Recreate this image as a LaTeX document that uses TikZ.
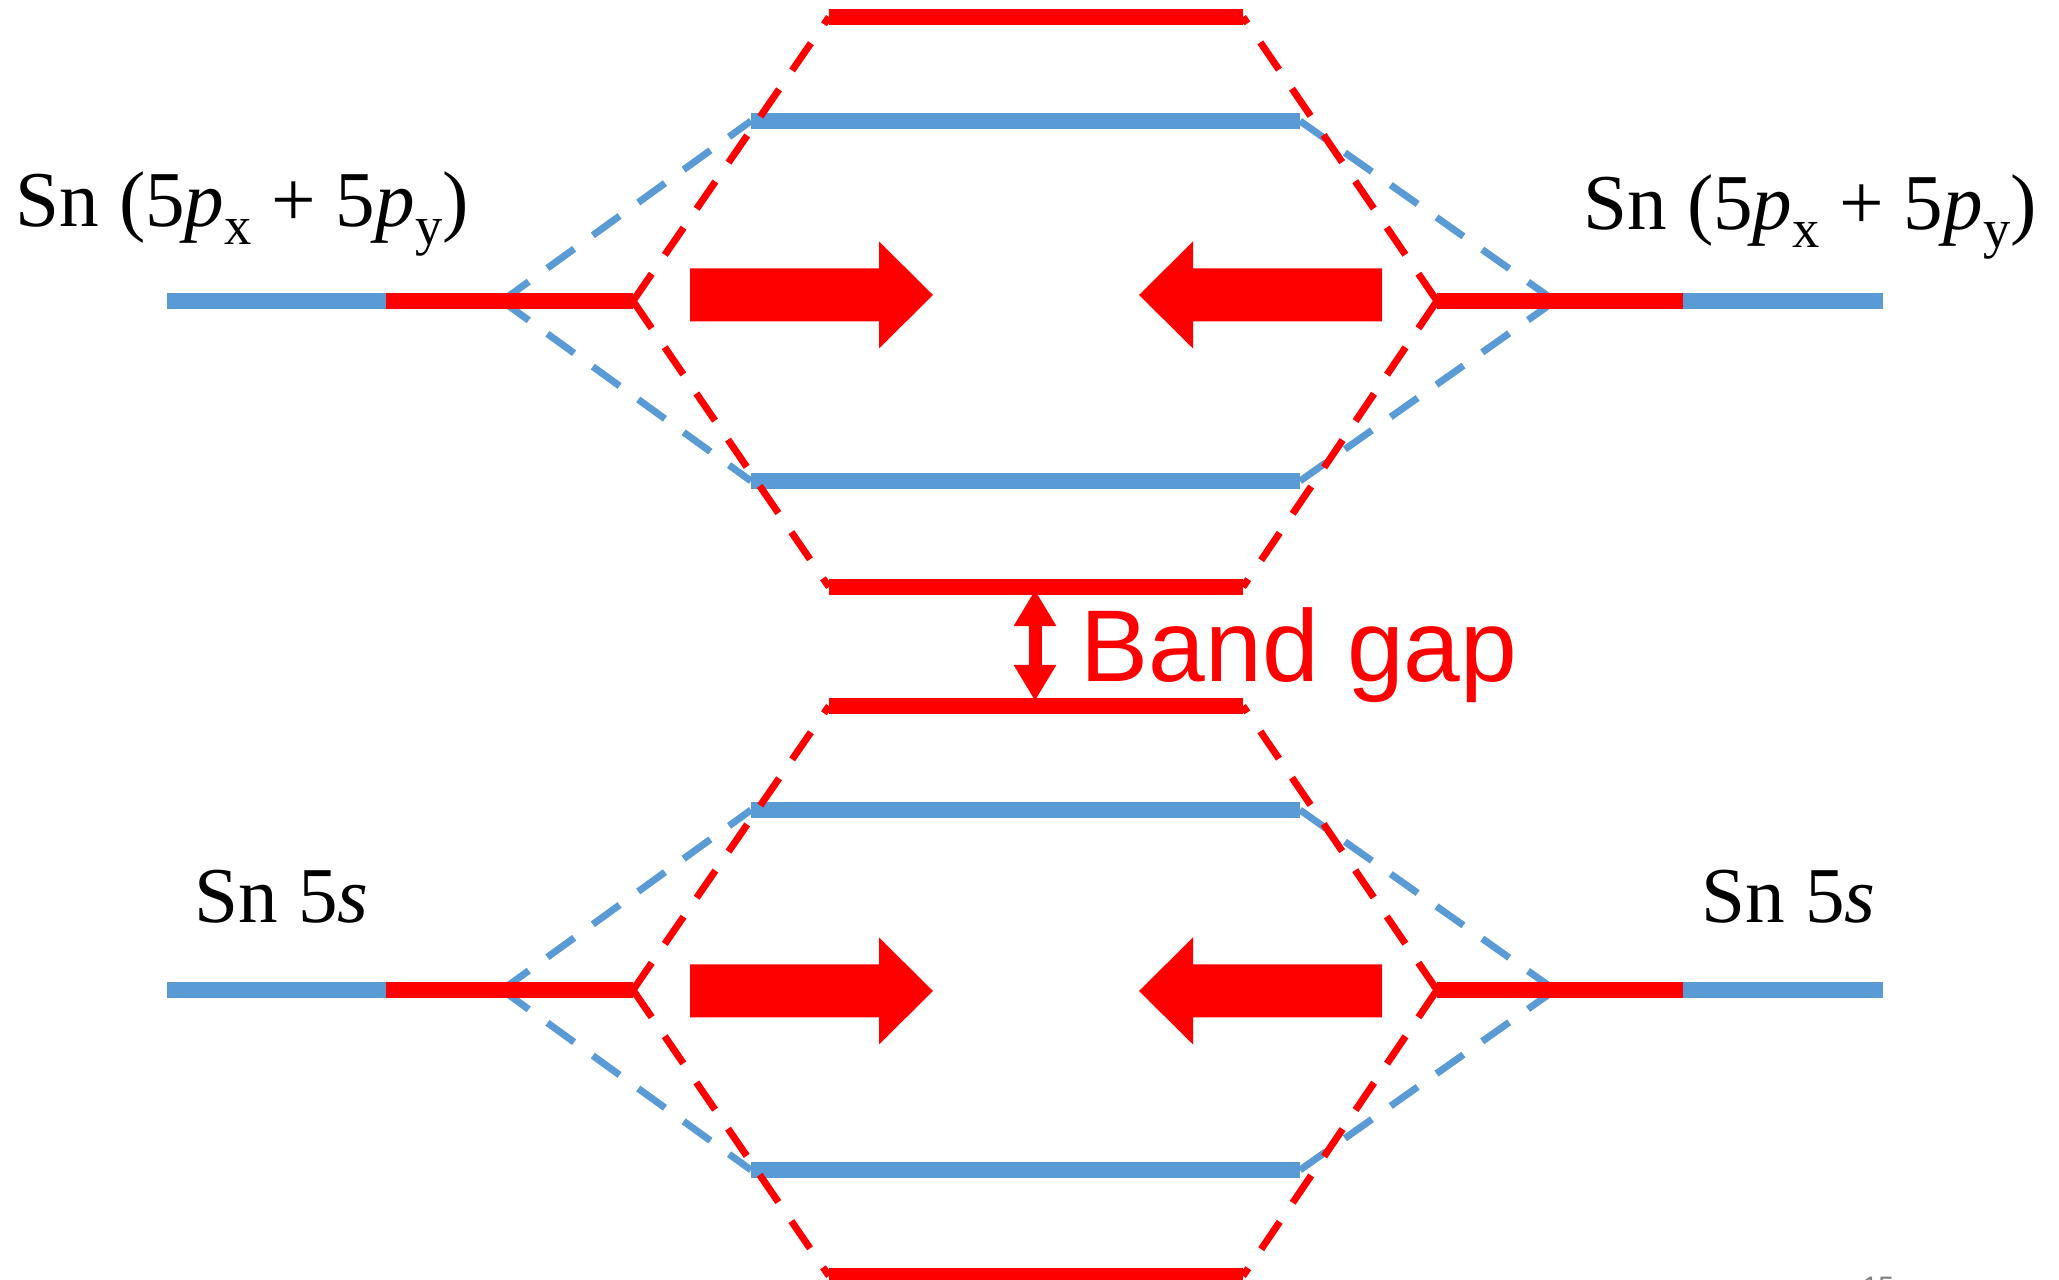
\documentclass[tikz,border=0pt]{standalone}
\usepackage{fontspec}
\setmainfont{Liberation Serif}
\newfontfamily\arialbetu{Liberation Sans}
\usetikzlibrary{arrows.meta}
\definecolor{kek}{HTML}{5B9BD5}
\definecolor{piros}{HTML}{FF0000}
\newcommand\alind[1]{\raisebox{-0.22em}{\fontsize{15.5}{15.5}\selectfont #1}}
\tikzset{
  szint/.style={line width=0.16cm},
  szagg/.style={line width=0.07cm,dash pattern=on 0.33cm off 0.23cm},
  cimke/.style={inner sep=0pt,anchor=base west,font=\fontsize{22.5}{26}\selectfont},
  kettos/.style={line width=0.13cm,
    {Triangle[width=0.4cm,length=0.36cm]}-{Triangle[width=0.4cm,length=0.36cm]}},
}

\begin{document}
\begin{tikzpicture}[x=0.01cm,y=-0.01cm]
  \useasboundingbox (0,0) rectangle (2059,1280);
  \foreach \g/\yc/\ya in {p/301/295,s/990/991}{
    % atomi szintek
    \coordinate (\g Lb) at (167,\yc);  \coordinate (\g Lm) at (386,\yc);
    \coordinate (\g Lx) at (502,\yc);  \coordinate (\g Le) at (633,\yc);
    \coordinate (\g Rs) at (1437,\yc); \coordinate (\g Rx) at (1555,\yc);
    \coordinate (\g Rm) at (1683,\yc); \coordinate (\g Re) at (1883,\yc);
    % kotesek
    \coordinate (\g a1) at (829,{\yc-284}); \coordinate (\g a2) at (1243,{\yc-284});
    \coordinate (\g b1) at (751,{\yc-180}); \coordinate (\g b2) at (1300,{\yc-180});
    \coordinate (\g c1) at (751,{\yc+180}); \coordinate (\g c2) at (1300,{\yc+180});
    \coordinate (\g d1) at (829,{\yc+286}); \coordinate (\g d2) at (1243,{\yc+286});
    \draw[szagg,kek] (\g Lx) -- (\g b1);
    \draw[szagg,kek] (\g Lx) -- (\g c1);
    \draw[szagg,kek] (\g Rx) -- (\g b2);
    \draw[szagg,kek] (\g Rx) -- (\g c2);
    \draw[szint,kek] (\g Lb) -- (\g Lm);
    \draw[szint,piros] (\g Lm) -- (\g Le);
    \draw[szint,piros] (\g Rs) -- (\g Rm);
    \draw[szint,kek] (\g Rm) -- (\g Re);
    \draw[szint,kek] (\g b1) -- (\g b2);
    \draw[szint,kek] (\g c1) -- (\g c2);
    \draw[szint,piros] (\g a1) -- (\g a2);
    \draw[szint,piros] (\g d1) -- (\g d2);
    \draw[szagg,piros] (\g Le) -- (\g a1);
    \draw[szagg,piros] (\g Le) -- (\g d1);
    \draw[szagg,piros] (\g Rs) -- (\g a2);
    \draw[szagg,piros] (\g Rs) -- (\g d2);
    % vastag nyilak
    \fill[piros] (690,{\ya-26.5}) -- (879,{\ya-26.5}) -- (879,{\ya-53.5}) -- (933,\ya)
      -- (879,{\ya+53.5}) -- (879,{\ya+26.5}) -- (690,{\ya+26.5}) -- cycle;
    \fill[piros] (1382,{\ya-26.5}) -- (1193,{\ya-26.5}) -- (1193,{\ya-53.5}) -- (1139,\ya)
      -- (1193,{\ya+53.5}) -- (1193,{\ya+26.5}) -- (1382,{\ya+26.5}) -- cycle;
  }
  \node[cimke] (lp) at (15,227) {Sn (5\textit{p}\alind{x} + 5\textit{p}\alind{y})};
  \node[cimke] (rp) at (1583,230) {Sn (5\textit{p}\alind{x} + 5\textit{p}\alind{y})};
  \node[cimke] (ls) at (194,923) {Sn 5\textit{s}};
  \node[cimke] (rs) at (1701,923) {Sn 5\textit{s}};
  % tiltott sav
  \coordinate (gapT) at (1035,590);
  \coordinate (gapB) at (1035,701);
  \draw[kettos,piros] (gapT) -- (gapB);
  \node[inner sep=0pt,anchor=base west,text=piros,
    font=\arialbetu\fontsize{29}{30}\selectfont] (bg) at (1080,682) {Band gap};
  \node[inner sep=0pt,anchor=north west,text=gray,
    font=\arialbetu\fontsize{8}{8}\selectfont] (oldal) at (1862,1276) {15};
\end{tikzpicture}
\end{document}
